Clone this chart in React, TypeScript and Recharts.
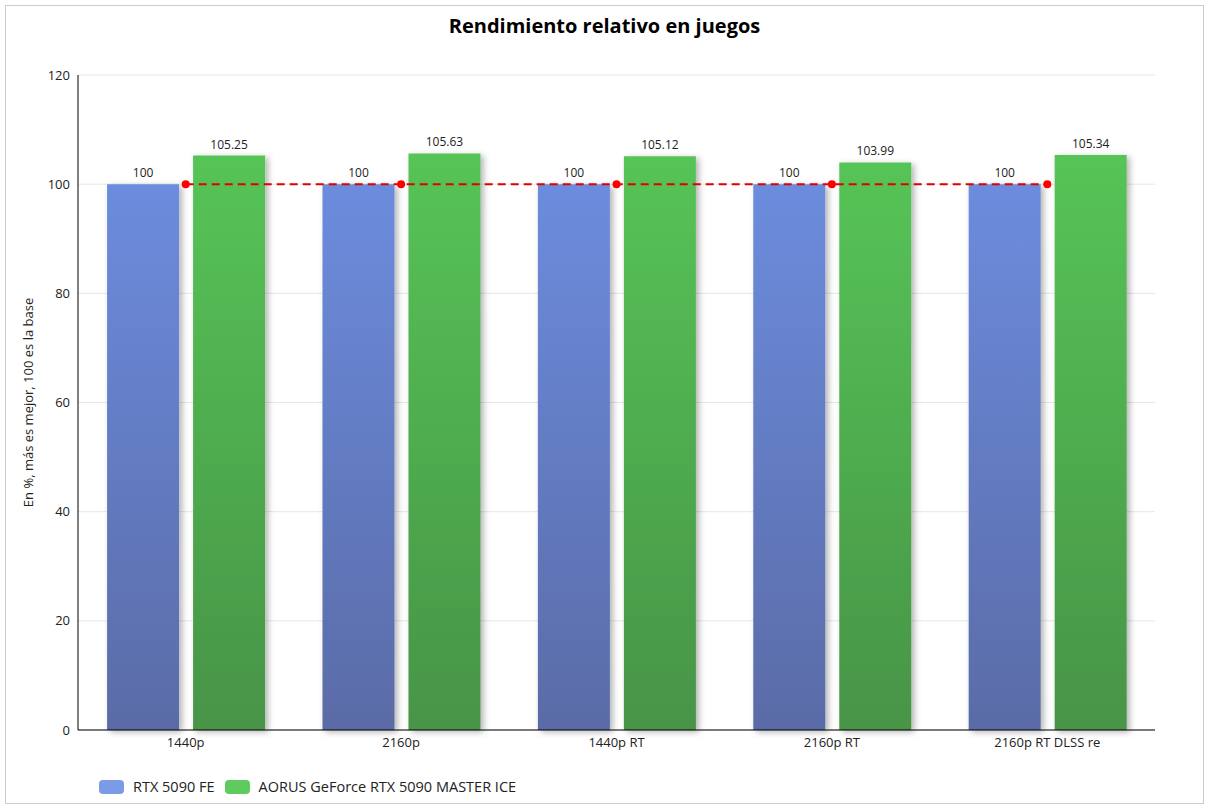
import React from "react";
import {
  ComposedChart,
  Bar,
  Line,
  XAxis,
  YAxis,
  CartesianGrid,
  LabelList,
} from "recharts";

const categories = ["1440p", "2160p", "1440p RT", "2160p RT", "2160p RT DLSS re"];
const rtx5090fe = [100, 100, 100, 100, 100];
const aorusIce = [105.25, 105.63, 105.12, 103.99, 105.34];
const baseline = [100, 100, 100, 100, 100];
const yTicks = [0, 20, 40, 60, 80, 100, 120];

const seriesNames = ["RTX 5090 FE", "AORUS GeForce RTX 5090 MASTER ICE"];

const data = categories.map((c, i) => ({
  name: c,
  fe: rtx5090fe[i],
  ice: aorusIce[i],
  base: baseline[i],
}));

const FONT = "'Open Sans', 'Noto Sans', sans-serif";

export default function App() {
  return (
    <div
      style={{
        position: "absolute",
        left: 5,
        top: 5,
        width: 1199,
        height: 799,
        border: "1px solid #cccccc",
        boxSizing: "border-box",
        background: "#fff",
        fontFamily: FONT,
      }}
    >
      <div
        style={{
          position: "absolute",
          top: 6,
          left: 0,
          width: "100%",
          textAlign: "center",
          fontSize: 20,
          fontWeight: 700,
          color: "#000",
        }}
      >
        Rendimiento relativo en juegos
      </div>
      <div style={{ position: "absolute", left: -1, top: -1 }}>
        <ComposedChart
          width={1199}
          height={799}
          data={data}
          margin={{ top: 70, right: 49, left: 33, bottom: 44 }}
          barCategoryGap="13.5%"
          barGap={14}
        >
          <defs>
            <linearGradient id="gBlue" x1="0" y1="0" x2="0" y2="1">
              <stop offset="0%" stopColor="#6C8CDD" />
              <stop offset="100%" stopColor="#5A6BA7" />
            </linearGradient>
            <linearGradient id="gGreen" x1="0" y1="0" x2="0" y2="1">
              <stop offset="0%" stopColor="#56C456" />
              <stop offset="100%" stopColor="#489447" />
            </linearGradient>
            <filter id="shadow" x="-20%" y="-10%" width="150%" height="130%">
              <feDropShadow dx="3" dy="2" stdDeviation="3" floodColor="#000" floodOpacity="0.3" />
            </filter>
          </defs>
          <CartesianGrid vertical={false} stroke="#e6e6e6" />
          <XAxis
            dataKey="name"
            tickLine={false}
            axisLine={{ stroke: "#000" }}
            tick={{ fill: "#222", fontSize: 13, fontFamily: FONT }}
            height={30}
            interval={0}
          />
          <YAxis
            domain={[0, 120]}
            ticks={yTicks}
            tickLine={false}
            axisLine={{ stroke: "#000" }}
            tick={{ fill: "#222", fontSize: 13, fontFamily: FONT }}
            width={40}
            label={{
              value: "En %, más es mejor, 100 es la base",
              angle: -90,
              position: "insideLeft",
              offset: -10,
              style: { fill: "#222", fontSize: 13, fontFamily: FONT, textAnchor: "middle" },
            }}
          />
          <Bar
            dataKey="fe"
            name={seriesNames[0]}
            fill="url(#gBlue)"
            filter="url(#shadow)"
            isAnimationActive={false}
          >
            <LabelList
              dataKey="fe"
              position="top"
              offset={7}
              style={{ fill: "#222", fontSize: 12, fontFamily: FONT }}
            />
          </Bar>
          <Bar
            dataKey="ice"
            name={seriesNames[1]}
            fill="url(#gGreen)"
            filter="url(#shadow)"
            isAnimationActive={false}
          >
            <LabelList
              dataKey="ice"
              position="top"
              offset={7}
              style={{ fill: "#222", fontSize: 12, fontFamily: FONT }}
            />
          </Bar>
          <Line
            dataKey="base"
            type="linear"
            stroke="#E00000"
            strokeWidth={2}
            strokeDasharray="8 5"
            dot={{ r: 4, fill: "#FF0000", stroke: "#FF0000", strokeWidth: 0 }}
            activeDot={false}
            legendType="none"
            isAnimationActive={false}
          />
        </ComposedChart>
      </div>
      <div
        style={{
          position: "absolute",
          left: 93,
          top: 771,
          display: "flex",
          alignItems: "center",
          fontSize: 14.5,
          color: "#222",
        }}
      >
        <span
          style={{
            display: "inline-block",
            width: 25,
            height: 14,
            borderRadius: 4,
            background: "#7B9BE6",
            marginRight: 9,
          }}
        />
        <span style={{ marginRight: 10 }}>{seriesNames[0]}</span>
        <span
          style={{
            display: "inline-block",
            width: 25,
            height: 14,
            borderRadius: 4,
            background: "#5FCB5F",
            marginRight: 9,
          }}
        />
        <span>{seriesNames[1]}</span>
      </div>
    </div>
  );
}
